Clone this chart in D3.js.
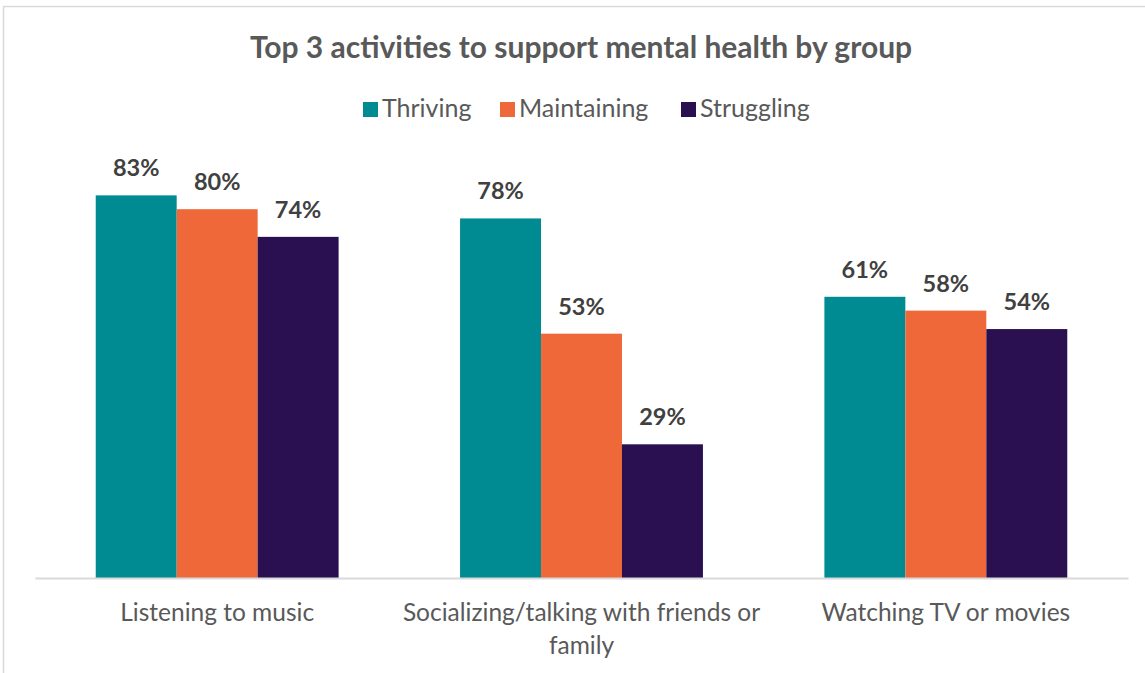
<!DOCTYPE html>
<html>
<head>
<meta charset="utf-8">
<script src="https://cdn.jsdelivr.net/npm/d3@7"></script>
<style>
  body { margin: 0; background: #fff; }
  svg { display: block; font-family: Lato, "Open Sans", sans-serif; }
</style>
</head>
<body>
<div class="chart_bar"></div>
<script>
// chart data
var categories = ["Listening to music", "Socializing/talking with friends or family", "Watching TV or movies"];
var seriesNames = ["Thriving", "Maintaining", "Struggling"];
var thriving = [83, 78, 61];
var maintaining = [80, 53, 58];
var struggling = [74, 29, 54];
var colors = ["#008B93", "#EE6839", "#2A1050"];

var seriesValues = [thriving, maintaining, struggling];

var width = 1145, height = 673;
var margin = {top: 117, right: 17, bottom: 95, left: 35};

var svg = d3.select('.chart_bar').append("svg")
  .attr("width", width)
  .attr("height", height);

// outer frame
svg.append("rect")
  .attr("x", 3.5).attr("y", 6.5)
  .attr("width", 1160).attr("height", 700)
  .attr("fill", "none")
  .attr("stroke", "#d9d9d9")
  .attr("stroke-width", 1.5);

var x0 = d3.scaleBand()
  .domain(categories)
  .range([margin.left, width - margin.right])
  .paddingInner(1 / 3)
  .paddingOuter(1 / 6);

var x1 = d3.scaleBand()
  .domain(seriesNames)
  .range([0, x0.bandwidth()]);

var y = d3.scaleLinear()
  .domain([0, 100])
  .range([height - margin.bottom, margin.top]);

// title
svg.append("text")
  .attr("x", 581)
  .attr("y", 58)
  .attr("text-anchor", "middle")
  .attr("font-size", 30)
  .attr("font-weight", "bold")
  .attr("fill", "#595959")
  .text("Top 3 activities to support mental health by group");

// legend
var legendX = [363, 500, 681];
var legend = svg.append("g");
seriesNames.forEach(function(name, i) {
  legend.append("rect")
    .attr("x", legendX[i]).attr("y", 102)
    .attr("width", 15).attr("height", 15)
    .attr("fill", colors[i]);
  legend.append("text")
    .attr("x", legendX[i] + 19).attr("y", 117)
    .attr("font-size", 25)
    .attr("fill", "#595959")
    .text(name);
});

// bars
var groups = svg.append("g").selectAll("g")
  .data(categories)
  .join("g")
  .attr("transform", function(d) { return "translate(" + x0(d) + ",0)"; });

groups.selectAll("rect")
  .data(function(d, ci) { return seriesNames.map(function(s, si) { return {s: s, v: seriesValues[si][ci], i: si}; }); })
  .join("rect")
  .attr("x", function(d) { return x1(d.s); })
  .attr("y", function(d) { return y(d.v); })
  .attr("width", x1.bandwidth())
  .attr("height", function(d) { return y(0) - y(d.v); })
  .attr("fill", function(d) { return colors[d.i]; });

groups.selectAll("text")
  .data(function(d, ci) { return seriesNames.map(function(s, si) { return {s: s, v: seriesValues[si][ci]}; }); })
  .join("text")
  .attr("x", function(d) { return x1(d.s) + x1.bandwidth() / 2; })
  .attr("y", function(d) { return y(d.v) - 19; })
  .attr("text-anchor", "middle")
  .attr("font-size", 23.5)
  .attr("font-weight", "bold")
  .attr("fill", "#404040")
  .text(function(d) { return d.v + "%"; });

// x axis
var xAxis = svg.append("g")
  .attr("transform", "translate(0," + y(0) + ")")
  .call(d3.axisBottom(x0).tickSize(0).tickFormat(""));
xAxis.select(".domain").attr("stroke", "#d9d9d9").attr("stroke-width", 2);

// wrapped category labels
var wrapWidth = x0.step();
xAxis.selectAll(".tick").each(function(d) {
  var t = d3.select(this).append("text")
    .attr("y", 43)
    .attr("text-anchor", "middle")
    .attr("font-family", "Lato, 'Open Sans', sans-serif")
    .attr("font-size", 24.5)
    .attr("fill", "#595959");
  var words = d.split(" "), line = [];
  var tspan = t.append("tspan").attr("x", 0).attr("dy", 0);
  words.forEach(function(w) {
    line.push(w);
    tspan.text(line.join(" "));
    if (tspan.node().getComputedTextLength() > wrapWidth && line.length > 1) {
      line.pop();
      tspan.text(line.join(" "));
      line = [w];
      tspan = t.append("tspan").attr("x", 0).attr("dy", 33).text(w);
    }
  });
});
</script>
</body>
</html>
